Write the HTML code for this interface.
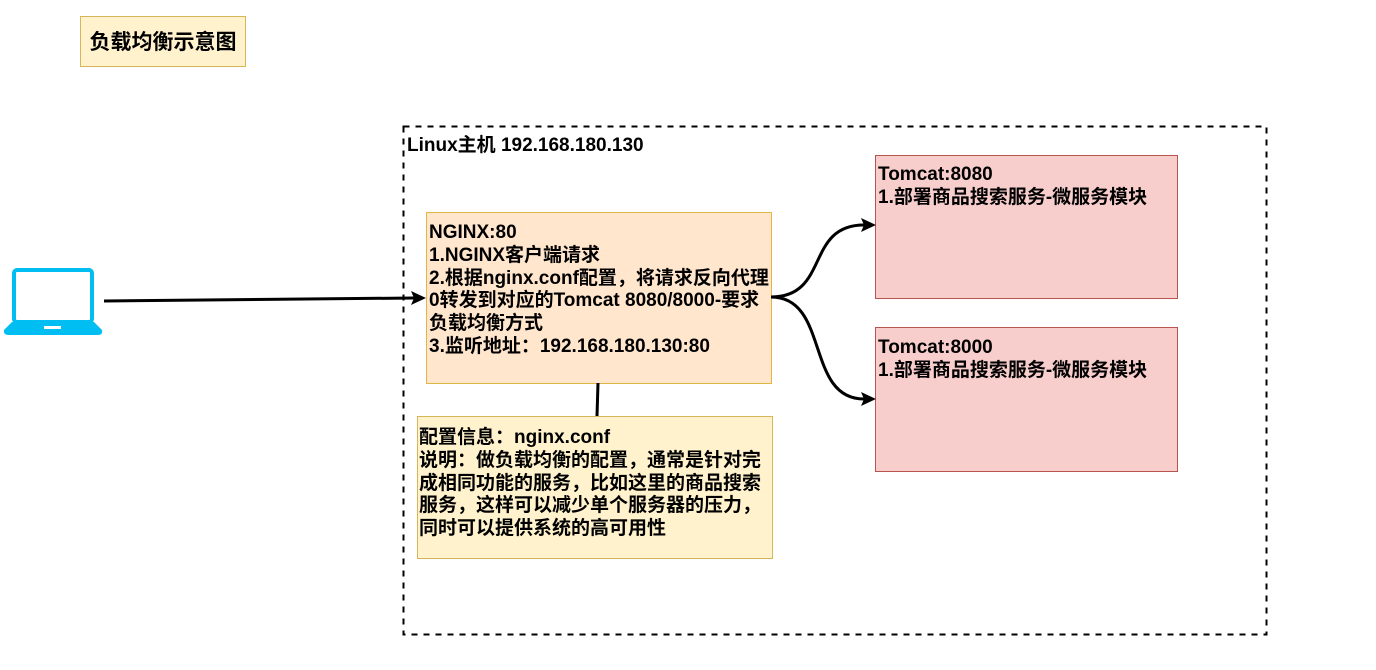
<!DOCTYPE html>
<html><head><meta charset="utf-8"><style>
body{margin:0;width:1376px;height:670px;background:#fff;position:relative;overflow:hidden;font-family:"Liberation Sans","Noto Sans CJK SC",sans-serif;font-weight:bold;color:#000}
.b{position:absolute;box-sizing:border-box}
.t{position:absolute;font-size:19px;line-height:22.8px;white-space:nowrap}
</style></head><body>
<svg class="b" style="left:0;top:0" width="1376" height="670">
<rect x="403.5" y="126.5" width="863" height="508" fill="none" stroke="#000" stroke-width="2" stroke-dasharray="6,6"/>
<rect x="80.5" y="16.5" width="165" height="50" fill="#fff2cc" stroke="#d6b656"/>
<rect x="426.5" y="212.5" width="345" height="171" fill="#ffe6cc" stroke="#d79b00" stroke-opacity=".7"/>
<rect x="417.5" y="416.5" width="355" height="142" fill="#fff2cc" stroke="#d6b656"/>
<rect x="875.5" y="155.5" width="302" height="143" fill="#f8cecc" stroke="#b85450"/>
<rect x="875.5" y="327.5" width="302" height="144" fill="#f8cecc" stroke="#b85450"/>
<rect x="14" y="270" width="78" height="52" rx="3" fill="none" stroke="#00bef2" stroke-width="4"/>
<path d="M4,330 L12,322 L94,322 L102,330 Q103,335 98,335 L9,335 Q3,335 4,330Z" fill="#00bef2"/>
<rect x="44" y="326" width="17" height="3" fill="#fff"/>
<path d="M104,301 L414,298" stroke="#000" stroke-width="3" fill="none"/>
<path d="M426,298 L411,291 L414,298 L411,305Z" fill="#000"/>
<path d="M771,297 C830,297 805,225 864,225" stroke="#000" stroke-width="3" fill="none"/>
<path d="M876,225 L861,218 L864,225 L861,232Z" fill="#000"/>
<path d="M771,297 C830,297 805,399 864,399" stroke="#000" stroke-width="3" fill="none"/>
<path d="M876,399 L861,392 L864,399 L861,406Z" fill="#000"/>
<path d="M598,383 L597,416" stroke="#000" stroke-width="3"/>
</svg>
<div class="t" style="left:80px;top:32px;width:166px;text-align:center;font-size:21px">负载均衡示意图</div>
<div class="t" style="left:407px;top:135px">Linux主机 192.168.180.130</div>
<div class="t" style="left:429px;top:222px">NGINX:80<br>1.NGINX客户端请求<br>2.根据nginx.conf配置，将请求反向代理<br>0转发到对应的Tomcat 8080/8000-要求<br>负载均衡方式<br>3.监听地址：192.168.180.130:80</div>
<div class="t" style="left:878px;top:164px">Tomcat:8080<br>1.部署商品搜索服务-微服务模块</div>
<div class="t" style="left:878px;top:337px">Tomcat:8000<br>1.部署商品搜索服务-微服务模块</div>
<div class="t" style="left:419px;top:427px">配置信息：nginx.conf<br>说明：做负载均衡的配置，通常是针对完<br>成相同功能的服务，比如这里的商品搜索<br>服务，这样可以减少单个服务器的压力，<br>同时可以提供系统的高可用性</div>
</body></html>
